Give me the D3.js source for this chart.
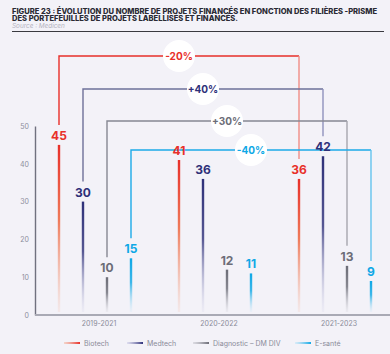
<!DOCTYPE html>
<html><head><meta charset="utf-8">
<script src="https://cdn.jsdelivr.net/npm/d3@7"></script>
<style>
html,body{margin:0;padding:0;background:#f3f2f8;}
svg{display:block;font-family:Inter,"Noto Sans",sans-serif;}
</style></head>
<body><svg id="c" width="390" height="354"></svg>
<script>
const periods = ["2019-2021","2020-2022","2021-2023"];
const series = ["Biotech","Medtech","Diagnostic – DM DIV","E-santé"];
const biotech = [45,41,36];
const medtech = [30,36,42];
const diagnostic = [10,12,13];
const esante = [15,11,9];
const changes = ["-20%","+40%","+30%","-40%"];
const yTicks = [0,10,20,30,40,50];
const colors = ["#e8302a","#2e3079","#6c6d77","#0fa8e6"];
const lightColors = ["#f4b49c","#c9c9e6","#c4c4cc","#bfe4f7"];
const connColors = ["#e8302a","#6e7199","#868893","#1cabe8"];
const connRightColors = ["#ef8d86","#8f92bd","#a5a6ae","#63c4ee"];
const connY = [56,89,121,150];

const values = [biotech, medtech, diagnostic, esante];
const svg = d3.select("#c");
svg.append("rect").attr("width",390).attr("height",354).attr("fill","#f3f2f8");

// title
svg.append("text").attr("x",12).attr("y",13.5).attr("font-size",7.4).attr("font-weight",800)
  .attr("fill","#2a2a33").attr("textLength",365).attr("lengthAdjust","spacingAndGlyphs")
  .text("FIGURE 23 : ÉVOLUTION DU NOMBRE DE PROJETS FINANCÉS EN FONCTION DES FILIÈRES -PRISME");
svg.append("text").attr("x",12).attr("y",21.2).attr("font-size",7.4).attr("font-weight",800)
  .attr("fill","#2a2a33").attr("textLength",226).attr("lengthAdjust","spacingAndGlyphs")
  .text("DES PORTEFEUILLES DE PROJETS LABELLISÉS ET FINANCÉS.");
svg.append("text").attr("x",12).attr("y",28).attr("font-size",6.4).attr("font-style","italic")
  .attr("fill","#b3b3bf").text("Source : Medicen");
svg.append("line").attr("x1",12).attr("x2",384).attr("y1",31.5).attr("y2",31.5)
  .attr("stroke","#3a3a40").attr("stroke-width",1);

const x0 = d3.scaleBand().domain(periods).range([35,395]).padding(0);
const x1 = d3.scalePoint().domain(series).range([24,96]);
const y = d3.scaleLinear().domain([0,50]).range([315,126]);
const bx = (si,pi)=> x0(periods[pi]) + x1(series[si]);

// gradients
const defs = svg.append("defs");
series.forEach((s,i)=>{
  const g = defs.append("linearGradient").attr("id","g"+i).attr("x1",0).attr("x2",0).attr("y1",0).attr("y2",1);
  g.append("stop").attr("offset","0%").attr("stop-color",colors[i]);
  g.append("stop").attr("offset","45%").attr("stop-color",i===0?"#ef7a5a":colors[i]).attr("stop-opacity",i===0?1:0.8);
  g.append("stop").attr("offset","100%").attr("stop-color",lightColors[i]).attr("stop-opacity",0.15);
  const h = defs.append("linearGradient").attr("id","h"+i).attr("x1",0).attr("x2",1).attr("y1",0).attr("y2",0);
  h.append("stop").attr("offset","0%").attr("stop-color",lightColors[i]).attr("stop-opacity",0.5);
  h.append("stop").attr("offset","100%").attr("stop-color",colors[i]);
});

// y axis
const yAxis = svg.append("g").attr("transform","translate(35,0)")
  .call(d3.axisLeft(y).tickValues(yTicks).tickSize(0).tickPadding(6));
yAxis.select(".domain").attr("stroke","#70717f").attr("stroke-width",1.4);
yAxis.selectAll("text").attr("font-size",7).attr("fill","#8d8e9c").attr("font-family","Inter,sans-serif");

// connectors (drawn first, under badges)
series.forEach((s,i)=>{
  const xl = bx(i,0), xr = bx(i,2), xm = bx(i,1);
  const yl = y(values[i][0]) - 20, yr = y(values[i][2]) - 20;
  svg.append("path").attr("d",`M${xl},${yl}V${connY[i]}H${xr}`)
    .attr("fill","none").attr("stroke",connColors[i]).attr("stroke-width",1.4);
  svg.append("line").attr("x1",xr).attr("x2",xr).attr("y1",connY[i]).attr("y2",yr)
    .attr("stroke",connRightColors[i]).attr("stroke-width",1.4);
});

// bars
series.forEach((s,i)=>{
  periods.forEach((p,j)=>{
    const v = values[i][j];
    svg.append("rect").attr("x",bx(i,j)-1.2).attr("width",2.4)
      .attr("y",y(v)).attr("height",y(0)-3-y(v)).attr("fill",`url(#g${i})`);
    svg.append("text").attr("x",bx(i,j)).attr("y",y(v)-5).attr("text-anchor","middle")
      .attr("font-size",12).attr("font-weight",700).attr("fill",colors[i]).text(v);
  });
});

// baseline
svg.append("line").attr("x1",35).attr("x2",390).attr("y1",315).attr("y2",315)
  .attr("stroke","#a9aab5").attr("stroke-width",2);

// badges
series.forEach((s,i)=>{
  const cx = bx(i,1), cy = connY[i];
  svg.append("circle").attr("cx",cx).attr("cy",cy).attr("r",16).attr("fill","#ffffff");
  svg.append("text").attr("x",cx).attr("y",cy+3.6).attr("text-anchor","middle")
    .attr("font-size",10).attr("font-weight",700).attr("fill",connColors[i]===("#6e7199")?"#2e3079":(i===2?"#6c6d77":colors[i])).text(changes[i]);
});

// x labels
periods.forEach(p=>{
  svg.append("text").attr("x",x0(p)+x0.bandwidth()/2+4).attr("y",325.5).attr("text-anchor","middle")
    .attr("font-size",7).attr("fill","#8a8b99").text(p);
});

// legend
const legX = [64,127,193,295];
series.forEach((s,i)=>{
  svg.append("rect").attr("x",legX[i]).attr("y",342).attr("width",16).attr("height",2).attr("fill",`url(#h${i})`);
  svg.append("text").attr("x",legX[i]+20).attr("y",345.5).attr("font-size",7).attr("fill","#8a8b99").text(s);
});
</script></body></html>
